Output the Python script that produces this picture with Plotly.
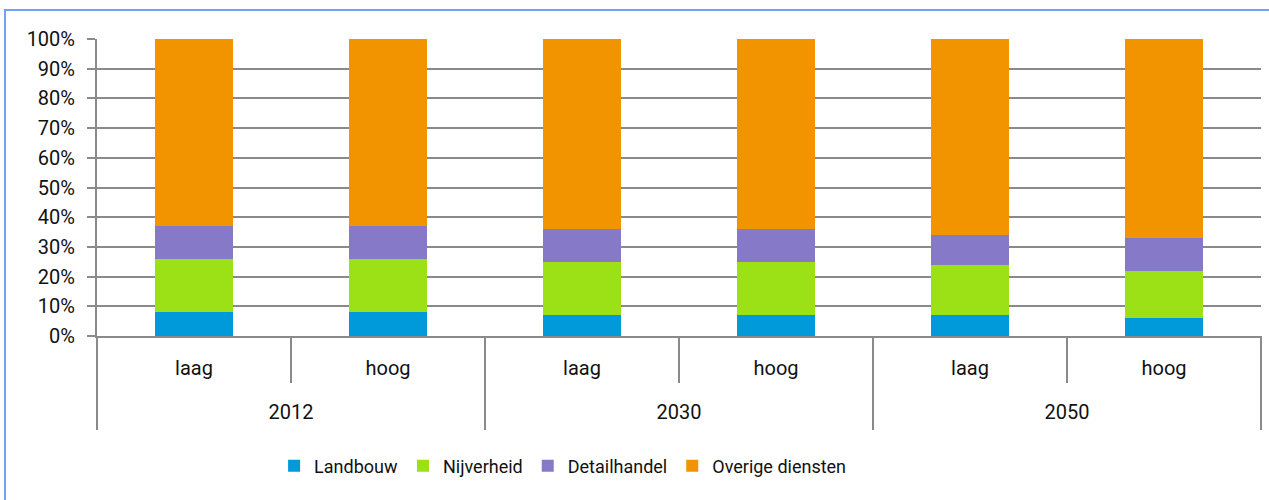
import plotly.graph_objects as go

# categorieën (jaar, scenario)
jaren = ['2012', '2012', '2030', '2030', '2050', '2050']
scenario = ['laag', 'hoog', 'laag', 'hoog', 'laag', 'hoog']

# aandelen in procenten
landbouw = [8, 8, 7, 7, 7, 6]
nijverheid = [18, 18, 18, 18, 17, 16]
detailhandel = [11, 11, 11, 11, 10, 11]
overige_diensten = [63, 63, 64, 64, 66, 67]

reeksen = [
    ('Landbouw', landbouw, '#0099DA'),
    ('Nijverheid', nijverheid, '#9CE016'),
    ('Detailhandel', detailhandel, '#8679C8'),
    ('Overige diensten', overige_diensten, '#F29400'),
]

font_naam = "Roboto, Arial, sans-serif"
grijs = '#8A8A8A'

# extra lege regel onder laag/hoog zodat de jaartallen lager komen
scenario_label = [s + "<br><span style='font-size:42px'>&nbsp;</span>" for s in scenario]

fig = go.Figure()
for naam, waarden, kleur in reeksen:
    fig.add_trace(go.Bar(
        x=[jaren, scenario_label],
        y=waarden,
        name=naam,
        marker=dict(color=kleur, line=dict(width=0)),
        hoverinfo='skip',
    ))

# scheidingslijnen: kort tussen laag/hoog, lang tussen de jaren
n = len(scenario)
lijnen = []
for i in range(n + 1):
    lang = (i % 2 == 0)
    lijnen.append(dict(
        type='line', xref='x domain', yref='y domain',
        x0=i / n, x1=i / n, y0=0, y1=(-94 if lang else -47) / 297,
        line=dict(color=grijs, width=2),
    ))
# lichtblauwe kader rond de grafiek
lijnen.append(dict(
    type='rect', xref='paper', yref='paper',
    x0=-92 / 1164, x1=1.1, y0=-0.8, y1=1 + 29 / 297,
    line=dict(color='#6FA3F5', width=2),
    layer='below',
))

fig.update_layout(
    barmode='stack',
    bargap=0.6,
    width=1269,
    height=500,
    margin=dict(l=97, r=8, t=39, b=164),
    paper_bgcolor='white',
    plot_bgcolor='white',
    font=dict(family=font_naam, size=20, color='#111111'),
    showlegend=True,
    legend=dict(
        orientation='h',
        x=0.40, xanchor='center',
        y=-0.438, yanchor='middle',
        font=dict(size=18),
        traceorder='normal',
        itemwidth=30,
    ),
    shapes=lijnen,
)

fig.update_yaxes(
    range=[0, 100],
    dtick=10,
    ticksuffix='%',
    showgrid=True,
    gridcolor=grijs,
    gridwidth=2,
    ticks='outside',
    ticklen=8,
    tickwidth=2,
    tickcolor=grijs,
    showline=True,
    linecolor=grijs,
    linewidth=2,
    zeroline=False,
    ticklabelstandoff=8,
    automargin=False,
)

fig.update_xaxes(
    type='multicategory',
    showline=True,
    linecolor=grijs,
    linewidth=2,
    ticks='outside',
    tickson='boundaries',
    ticklen=81,
    tickcolor='rgba(0,0,0,0)',
    showdividers=False,
    ticklabelstandoff=13,
    automargin=False,
)

fig.write_html("out.html", config={'displayModeBar': False},
               post_script="document.body.style.margin='0px';")
